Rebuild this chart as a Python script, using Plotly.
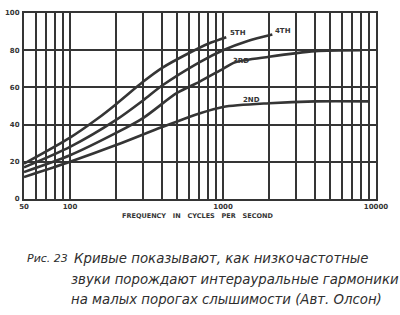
import math
import plotly.graph_objects as go

# ---- data ----
freq_5th = [50, 100, 150, 200, 300, 400, 600, 800, 1050]
val_5th = [19, 33, 43, 51, 63, 70.5, 78.5, 83.5, 87]

freq_4th = [50, 100, 200, 300, 400, 700, 1000, 1450, 2100]
val_4th = [17, 28, 42.5, 53, 61, 73.5, 80, 85, 88.5]

freq_3rd = [50, 100, 200, 300, 500, 700, 1000, 1200, 2000, 4000, 8000]
val_3rd = [14.5, 23.5, 35.5, 43.5, 57, 63, 70, 73.5, 76.5, 79.5, 80]

freq_2nd = [50, 100, 200, 400, 700, 1000, 2000, 4000, 9000]
val_2nd = [11.8, 20, 29, 38.7, 46, 49.5, 51.5, 52.5, 52.5]

curve_names = ["5TH", "4TH", "3RD", "2ND"]

x_grid = [50, 60, 70, 80, 90, 100, 200, 300, 400, 500, 600, 700, 800, 900,
          1000, 2000, 3000, 4000, 5000, 6000, 7000, 8000, 9000, 10000]
x_labels = {50: "50", 100: "100", 1000: "1000", 10000: "10000"}
y_ticks = [0, 20, 40, 60, 80, 100]

caption_lead = "Рис. 23"
caption_lines = [
    "Кривые показывают, как низкочастотные",
    "звуки порождают интерауральные гармоники",
    "на малых порогах слышимости (Авт. Олсон)",
]
x_title = "FREQUENCY   IN   CYCLES   PER   SECOND"

INK = "#353535"

fig = go.Figure()
for f, v, n in [(freq_5th, val_5th, "5TH"), (freq_4th, val_4th, "4TH"),
                (freq_3rd, val_3rd, "3RD"), (freq_2nd, val_2nd, "2ND")]:
    fig.add_trace(go.Scatter(x=f, y=v, mode="lines", name=n,
                             line=dict(color=INK, width=2.6, shape="spline", smoothing=0.8),
                             showlegend=False, hoverinfo="skip"))

# curve labels (positions in data space)
label_pos = {"5TH": (1260, 89.5), "4TH": (2450, 90.5), "3RD": (1310, 74.2), "2ND": (1530, 53.2)}
for n in curve_names:
    fx, fy = label_pos[n]
    fig.add_annotation(x=math.log10(fx), y=fy, text="<b>%s</b>" % n, showarrow=False,
                       font=dict(family="DejaVu Sans", size=7, color=INK),
                       xanchor="center", yanchor="middle")

fig.update_xaxes(type="log", range=[math.log10(50), 4], automargin=False,
                 tickvals=x_grid,
                 ticktext=["<b>%s</b>" % x_labels[v] if v in x_labels else "" for v in x_grid],
                 showgrid=True, gridcolor=INK, gridwidth=2,
                 showline=True, linecolor=INK, linewidth=2, mirror=True,
                 ticks="", tickfont=dict(family="DejaVu Sans", size=7, color=INK),
                 zeroline=False, fixedrange=True)
fig.update_yaxes(range=[0, 100], tickvals=y_ticks, automargin=False,
                 ticktext=["<b>%d</b>" % v for v in y_ticks],
                 showgrid=True, gridcolor=INK, gridwidth=2.4,
                 showline=True, linecolor=INK, linewidth=2, mirror=True,
                 ticks="", ticklabelstandoff=1,
                 tickfont=dict(family="DejaVu Sans", size=7, color=INK),
                 zeroline=False, fixedrange=True)

def px_x(px):
    return (px - 24) / 352.0

def px_y(py):
    return (199 - py) / 186.0

# axis title
fig.add_annotation(xref="paper", yref="paper", x=px_x(197), y=px_y(216), text="<b>%s</b>" % x_title,
                   showarrow=False, xanchor="center", yanchor="middle",
                   font=dict(family="DejaVu Sans", size=6.5, color=INK))

# caption
cap_font = dict(family="DejaVu Sans", size=13.3, color="#2e2e2e", style="italic")
lead_font = dict(family="DejaVu Sans", size=11, color="#2e2e2e", style="italic")
fig.add_annotation(xref="paper", yref="paper", x=px_x(25), y=px_y(258), text=caption_lead,
                   showarrow=False, xanchor="left", yanchor="middle", font=lead_font)
for line, ly, lx in zip(caption_lines, [258, 279, 299], [72, 69, 69]):
    fig.add_annotation(xref="paper", yref="paper", x=px_x(lx), y=px_y(ly), text=line,
                       showarrow=False, xanchor="left", yanchor="middle", font=cap_font)

fig.update_layout(width=400, height=315, autosize=False,
                  margin=dict(l=24, r=24, t=13, b=116, pad=0),
                  paper_bgcolor="white", plot_bgcolor="white")

fig.write_html("out.html")
